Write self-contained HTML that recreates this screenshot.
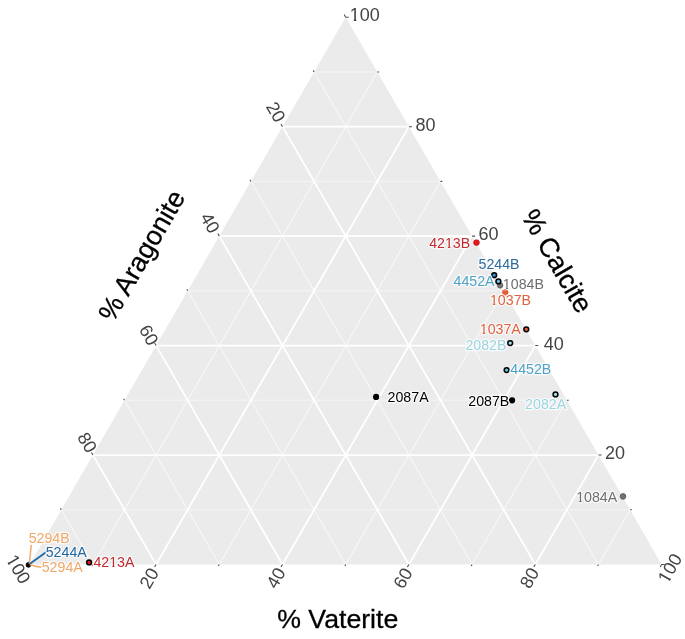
<!DOCTYPE html><html><head><meta charset="utf-8"><style>html,body{margin:0;padding:0;background:#fff;width:685px;height:639px;overflow:hidden}svg{display:block;will-change:transform}text{font-family:"Liberation Sans",sans-serif}</style></head><body>
<svg width="685" height="639" viewBox="0 0 685 639">
<defs><mask id="m0" maskUnits="userSpaceOnUse" x="334.71" y="-32.55" width="60.06" height="108"><rect x="334.71" y="-32.55" width="60.06" height="108" fill="#fff"/><rect x="349.52" y="18.71" width="4.28" height="3.74" fill="#000"/><rect x="356.29" y="18.71" width="3.06" height="3.74" fill="#000"/></mask><mask id="m9" maskUnits="userSpaceOnUse" x="-17.01" y="518.27" width="60.06" height="108"><rect x="-17.01" y="518.27" width="60.06" height="108" fill="#fff"/><rect x="-2.2" y="569.53" width="4.28" height="3.74" fill="#000"/><rect x="4.57" y="569.53" width="3.06" height="3.74" fill="#000"/></mask><mask id="m14" maskUnits="userSpaceOnUse" x="645.21" y="517.44" width="60.06" height="108"><rect x="645.21" y="517.44" width="60.06" height="108" fill="#fff"/><rect x="660.02" y="568.69" width="4.28" height="3.74" fill="#000"/><rect x="666.79" y="568.69" width="3.06" height="3.74" fill="#000"/></mask><mask id="m18" maskUnits="userSpaceOnUse" x="408.65" y="205.35" width="82.12" height="85.2"><rect x="408.65" y="205.35" width="82.12" height="85.2" fill="#fff"/><rect x="444.78" y="245.49" width="3.32" height="3.46" fill="#000"/><rect x="450.26" y="245.49" width="2.43" height="3.46" fill="#000"/></mask><mask id="m21" maskUnits="userSpaceOnUse" x="482.33" y="246.35" width="82.12" height="85.2"><rect x="482.33" y="246.35" width="82.12" height="85.2" fill="#fff"/><rect x="502.66" y="286.49" width="3.32" height="3.46" fill="#000"/><rect x="508.14" y="286.49" width="2.43" height="3.46" fill="#000"/></mask><mask id="m22" maskUnits="userSpaceOnUse" x="469.43" y="262.6" width="82.12" height="85.2"><rect x="469.43" y="262.6" width="82.12" height="85.2" fill="#fff"/><rect x="489.76" y="302.74" width="3.32" height="3.46" fill="#000"/><rect x="495.24" y="302.74" width="2.43" height="3.46" fill="#000"/></mask><mask id="m23" maskUnits="userSpaceOnUse" x="459.24" y="291.85" width="82.12" height="85.2"><rect x="459.24" y="291.85" width="82.12" height="85.2" fill="#fff"/><rect x="479.57" y="331.99" width="3.32" height="3.46" fill="#000"/><rect x="485.05" y="331.99" width="2.43" height="3.46" fill="#000"/></mask><mask id="m29" maskUnits="userSpaceOnUse" x="555.64" y="459.55" width="82.12" height="85.2"><rect x="555.64" y="459.55" width="82.12" height="85.2" fill="#fff"/><rect x="575.97" y="499.69" width="3.32" height="3.46" fill="#000"/><rect x="581.45" y="499.69" width="2.43" height="3.46" fill="#000"/></mask><mask id="m30" maskUnits="userSpaceOnUse" x="72.91" y="524.65" width="82.12" height="85.2"><rect x="72.91" y="524.65" width="82.12" height="85.2" fill="#fff"/><rect x="109.04" y="564.79" width="3.32" height="3.46" fill="#000"/><rect x="114.52" y="564.79" width="2.43" height="3.46" fill="#000"/></mask></defs>
<polygon points="345.7,17.2 29.7,564.5 661.7,564.5" fill="#EBEBEB"/>
<path d="M314.1 71.93L598.5 564.5M377.3 71.93L92.9 564.5M250.9 181.39L472.1 564.5M440.5 181.39L219.3 564.5M187.7 290.85L345.7 564.5M503.7 290.85L345.7 564.5M124.5 400.31L219.3 564.5M566.9 400.31L472.1 564.5M61.3 509.77L92.9 564.5M630.1 509.77L598.5 564.5" stroke="#fff" stroke-width="0.75" fill="none"/>
<path d="M61.3 509.77L630.1 509.77M124.5 400.31L566.9 400.31M187.7 290.85L503.7 290.85M250.9 181.39L440.5 181.39M314.1 71.93L377.3 71.93" stroke="#F2F2F2" stroke-width="1.5" fill="none"/>
<path d="M92.9 455.04L598.5 455.04M282.5 126.66L535.3 564.5M408.9 126.66L156.1 564.5M156.1 345.58L535.3 345.58M219.3 236.12L408.9 564.5M472.1 236.12L282.5 564.5M219.3 236.12L472.1 236.12M156.1 345.58L282.5 564.5M535.3 345.58L408.9 564.5M282.5 126.66L408.9 126.66M92.9 455.04L156.1 564.5M598.5 455.04L535.3 564.5" stroke="#fff" stroke-width="1.8" fill="none"/>
<path d="M661.7 564.5L664.7 564.5M345.7 17.2L344.2 14.6M29.7 564.5L28.2 567.1M630.1 509.77L631.9 509.77M314.1 71.93L313.2 70.37M92.9 564.5L92 566.06M598.5 455.04L601.5 455.04M282.5 126.66L281 124.06M156.1 564.5L154.6 567.1M566.9 400.31L568.7 400.31M250.9 181.39L250 179.83M219.3 564.5L218.4 566.06M535.3 345.58L538.3 345.58M219.3 236.12L217.8 233.52M282.5 564.5L281 567.1M503.7 290.85L505.5 290.85M187.7 290.85L186.8 289.29M345.7 564.5L344.8 566.06M472.1 236.12L475.1 236.12M156.1 345.58L154.6 342.98M408.9 564.5L407.4 567.1M440.5 181.39L442.3 181.39M124.5 400.31L123.6 398.75M472.1 564.5L471.2 566.06M408.9 126.66L411.9 126.66M92.9 455.04L91.4 452.44M535.3 564.5L533.8 567.1M377.3 71.93L379.1 71.93M61.3 509.77L60.4 508.21M598.5 564.5L597.6 566.06M345.7 17.2L348.7 17.2M29.7 564.5L28.2 561.9M661.7 564.5L660.2 567.1" stroke="#4d4d4d" stroke-width="1.05" fill="none"/>
<circle cx="476.5" cy="242.6" r="2.9" fill="#E8161E" stroke="#B00A12" stroke-width="0.6"/>
<circle cx="494.2" cy="275.2" r="2.4" fill="#3A8AC4" stroke="#000" stroke-width="1.5"/>
<circle cx="500.2" cy="285.4" r="2.7" fill="#777" stroke="#555" stroke-width="0.8"/>
<circle cx="498.4" cy="281.4" r="2.4" fill="#62BEE0" stroke="#000" stroke-width="1.5"/>
<circle cx="505.3" cy="292.4" r="2.8" fill="#EE5A32" stroke="#D04A28" stroke-width="0.6"/>
<circle cx="526.3" cy="329.3" r="2.4" fill="#F0643C" stroke="#000" stroke-width="1.5"/>
<circle cx="510.2" cy="343.1" r="2.4" fill="#A6DDEA" stroke="#000" stroke-width="1.5"/>
<circle cx="506.6" cy="370.1" r="2.4" fill="#62BEE0" stroke="#000" stroke-width="1.5"/>
<circle cx="512.1" cy="400.3" r="2.5" fill="#000" stroke="#000" stroke-width="1.2"/>
<circle cx="555.5" cy="394.4" r="2.4" fill="#A6DDEA" stroke="#000" stroke-width="1.5"/>
<circle cx="376.1" cy="396.9" r="2.5" fill="#000" stroke="#000" stroke-width="1.2"/>
<circle cx="623" cy="496.4" r="2.8" fill="#737373" stroke="#555" stroke-width="0.8"/>
<circle cx="89.1" cy="562.4" r="2.4" fill="#E8161E" stroke="#000" stroke-width="1.5"/>
<circle cx="28.4" cy="564.9" r="2.3" fill="#000" stroke="#000" stroke-width="1.0"/>
<line x1="29.3" y1="564" x2="31.3" y2="544.8" stroke="#F2AE74" stroke-width="1.6"/>
<line x1="29.6" y1="564" x2="46.3" y2="551.9" stroke="#1F6AA5" stroke-width="1.8"/>
<polyline points="29.8,564.6 36,566.4 41.5,567.2" fill="none" stroke="#F2AE74" stroke-width="1.6"/>
<text x="364.74" y="21.45" font-size="18" fill="#444444" text-anchor="middle" mask="url(#m0)">100</text>
<text x="425.59" y="130.7" font-size="18" fill="#444444" text-anchor="middle">80</text>
<text x="488.56" y="240.13" font-size="18" fill="#444444" text-anchor="middle">60</text>
<text x="553.72" y="349.84" font-size="18" fill="#444444" text-anchor="middle">40</text>
<text x="615.12" y="459.48" font-size="18" fill="#444444" text-anchor="middle">20</text>
<text x="270.48" y="115.1" font-size="18" fill="#444444" text-anchor="middle" transform="rotate(60 270.48 115.1)">20</text>
<text x="204.74" y="226.03" font-size="18" fill="#444444" text-anchor="middle" transform="rotate(60 204.74 226.03)">40</text>
<text x="143.6" y="338.29" font-size="18" fill="#444444" text-anchor="middle" transform="rotate(60 143.6 338.29)">60</text>
<text x="81.88" y="445.61" font-size="18" fill="#444444" text-anchor="middle" transform="rotate(60 81.88 445.61)">80</text>
<text x="13.02" y="572.27" font-size="18" fill="#444444" text-anchor="middle" transform="rotate(60 13.02 572.27)" mask="url(#m9)">100</text>
<text x="154.62" y="581.21" font-size="18" fill="#444444" text-anchor="middle" transform="rotate(-60 154.62 581.21)">20</text>
<text x="281.2" y="580.99" font-size="18" fill="#444444" text-anchor="middle" transform="rotate(-60 281.2 580.99)">40</text>
<text x="408.36" y="581.35" font-size="18" fill="#444444" text-anchor="middle" transform="rotate(-60 408.36 581.35)">60</text>
<text x="534.88" y="581.09" font-size="18" fill="#444444" text-anchor="middle" transform="rotate(-60 534.88 581.09)">80</text>
<text x="675.24" y="571.44" font-size="18" fill="#444444" text-anchor="middle" transform="rotate(-60 675.24 571.44)" mask="url(#m14)">100</text>
<text x="337.75" y="627.9" font-size="26.7" fill="#000" text-anchor="middle" stroke="#000" stroke-width="0.3">% Vaterite</text>
<text x="149.65" y="260.13" font-size="27" fill="#000" text-anchor="middle" transform="rotate(-60 149.65 260.13)" stroke="#000" stroke-width="0.3">% Aragonite</text>
<text x="549.16" y="265.71" font-size="27" fill="#000" text-anchor="middle" transform="rotate(60 549.16 265.71)" stroke="#000" stroke-width="0.3">% Calcite</text>
<text x="449.71" y="247.95" font-size="14.2" fill="#C22A30" text-anchor="middle" mask="url(#m18)" stroke="#fff" stroke-width="2.6" stroke-linejoin="round" stroke-opacity="0.75" paint-order="stroke">4213B</text>
<text x="499.09" y="269.05" font-size="14.2" fill="#2B6C9C" text-anchor="middle" stroke="#fff" stroke-width="2.6" stroke-linejoin="round" stroke-opacity="0.75" paint-order="stroke">5244B</text>
<text x="474.08" y="286.3" font-size="14.2" fill="#4FA3C8" text-anchor="middle" stroke="#fff" stroke-width="2.6" stroke-linejoin="round" stroke-opacity="0.75" paint-order="stroke">4452A</text>
<text x="523.39" y="288.95" font-size="14.2" fill="#6E6E6E" text-anchor="middle" mask="url(#m21)" stroke="#fff" stroke-width="2.6" stroke-linejoin="round" stroke-opacity="0.75" paint-order="stroke">1084B</text>
<text x="510.5" y="305.2" font-size="14.2" fill="#E0623F" text-anchor="middle" mask="url(#m22)" stroke="#fff" stroke-width="2.6" stroke-linejoin="round" stroke-opacity="0.75" paint-order="stroke">1037B</text>
<text x="500.31" y="334.45" font-size="14.2" fill="#E0623F" text-anchor="middle" mask="url(#m23)" stroke="#fff" stroke-width="2.6" stroke-linejoin="round" stroke-opacity="0.75" paint-order="stroke">1037A</text>
<text x="485.98" y="349.85" font-size="14.2" fill="#9AD5E0" text-anchor="middle" stroke="#fff" stroke-width="2.6" stroke-linejoin="round" stroke-opacity="0.75" paint-order="stroke">2082B</text>
<text x="530.82" y="373.95" font-size="14.2" fill="#4FA3C8" text-anchor="middle" stroke="#fff" stroke-width="2.6" stroke-linejoin="round" stroke-opacity="0.75" paint-order="stroke">4452B</text>
<text x="488.78" y="406" font-size="14.2" fill="#000" text-anchor="middle" stroke="#fff" stroke-width="2.6" stroke-linejoin="round" stroke-opacity="0.75" paint-order="stroke">2087B</text>
<text x="545.64" y="409.25" font-size="14.2" fill="#9AD5E0" text-anchor="middle" stroke="#fff" stroke-width="2.6" stroke-linejoin="round" stroke-opacity="0.75" paint-order="stroke">2082A</text>
<text x="408.1" y="402.3" font-size="14.2" fill="#000" text-anchor="middle" stroke="#fff" stroke-width="2.6" stroke-linejoin="round" stroke-opacity="0.75" paint-order="stroke">2087A</text>
<text x="596.71" y="502.15" font-size="14.2" fill="#6E6E6E" text-anchor="middle" mask="url(#m29)" stroke="#fff" stroke-width="2.6" stroke-linejoin="round" stroke-opacity="0.75" paint-order="stroke">1084A</text>
<text x="113.97" y="567.25" font-size="14.2" fill="#C22A30" text-anchor="middle" mask="url(#m30)" stroke="#fff" stroke-width="2.6" stroke-linejoin="round" stroke-opacity="0.75" paint-order="stroke">4213A</text>
<text x="49.19" y="543.3" font-size="14.2" fill="#F0A868" text-anchor="middle" stroke="#fff" stroke-width="2.6" stroke-linejoin="round" stroke-opacity="0.75" paint-order="stroke">5294B</text>
<text x="66.25" y="557.1" font-size="14.2" fill="#22679E" text-anchor="middle" stroke="#fff" stroke-width="2.6" stroke-linejoin="round" stroke-opacity="0.75" paint-order="stroke">5244A</text>
<text x="62.25" y="572.2" font-size="14.2" fill="#F0A868" text-anchor="middle" stroke="#fff" stroke-width="2.6" stroke-linejoin="round" stroke-opacity="0.75" paint-order="stroke">5294A</text>
</svg></body></html>
